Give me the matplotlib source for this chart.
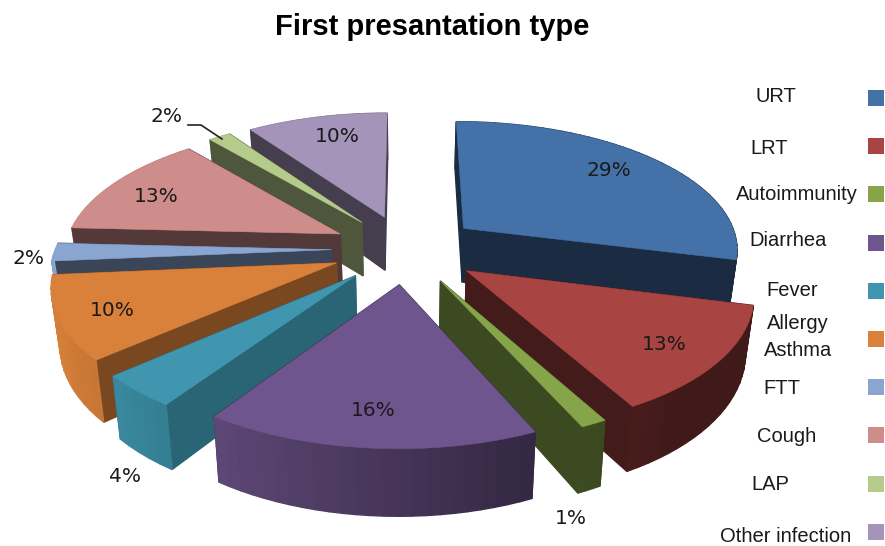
import numpy as np
import matplotlib
matplotlib.use('Agg')
import matplotlib.pyplot as plt
from matplotlib.patches import Polygon, Rectangle

#--- data ---
categories = ['URT', 'LRT', 'Autoimmunity', 'Diarrhea', 'Fever', 'Allergy\nAsthma',
              'FTT', 'Cough', 'LAP', 'Other infection']
values = [29.0, 13.0, 1.28, 16.17, 4.0, 10.15, 2.2, 13.0, 1.52, 9.68]

#--- style ---
top_colors = ['#4472a8', '#a84442', '#86a44a', '#6f558d', '#3f96ae',
              '#d9813a', '#8aa5d0', '#ce8c8a', '#b5cb8c', '#a594ba']
radial_shade = [0.39, 0.40, 0.45, 0.45, 0.67, 0.56, 0.42, 0.41, 0.43, 0.42]
legend_x = [776, 769, 797, 788, 792, 798, 782, 787, 770, 786]
legend_y = [96, 149, 195, 240, 290, 337, 389, 436, 484, 536]
pct_x = [609, 664, 571, 373, 125, 112, 28, 156, 167, 337]
pct_y = [171, 345, 518, 411, 476, 311, 258, 196, 117, 137]

#--- projection ---
cx = 406.; cy = 249.
sx = 276.; sy = 128.; persp = 0.147
explode = 0.27; depth = 55.; bottom_x = 0.975

def project(x, v, low=False):
    s = 1. / (1. + persp * v)
    px = sx * x * s
    py = sy * v * s
    if low:
        return cx + px * bottom_x, cy - py + depth * s
    return cx + px, cy - py

def shade(col, f):
    return tuple(c * f for c in matplotlib.colors.to_rgb(col))

def wall_factor(theta):
    return np.clip(0.62 - 0.39 * np.sin(theta), 0.38, 1.0)

fig = plt.figure(figsize=(8.85, 5.46), dpi=100)
ax = fig.add_axes([0, 0, 1, 1])
ax.set_xlim(0, 885)
ax.set_ylim(546, 0)
ax.axis('off')

total = float(sum(values))
edges = np.cumsum([0] + values) / total * 2 * np.pi

# back wedges first
mids = (edges[:-1] + edges[1:]) / 2
depth_key = (explode + 0.6) * np.cos(mids)
order = np.argsort(-depth_key)

z = 1
for i in order:
    a0, a1 = edges[i], edges[i + 1]
    ox = explode * np.sin(mids[i]); ov = explode * np.cos(mids[i])
    th = np.linspace(a0, a1, max(4, int((a1 - a0) * 25)))
    xs = ox + np.sin(th); vs = ov + np.cos(th)
    col = top_colors[i]

    walls = []
    for px, pv in [(xs[0], vs[0]), (xs[-1], vs[-1])]:
        quad = [project(ox, ov), project(px, pv), project(px, pv, True), project(ox, ov, True)]
        walls.append(((ov + pv) / 2, quad, shade(col, radial_shade[i])))
    for j in range(len(th) - 1):
        quad = [project(xs[j], vs[j]), project(xs[j + 1], vs[j + 1]),
                project(xs[j + 1], vs[j + 1], True), project(xs[j], vs[j], True)]
        c = shade(col, wall_factor((th[j] + th[j + 1]) / 2))
        walls.append(((vs[j] + vs[j + 1]) / 2, quad, c))
    walls.sort(key=lambda w: -w[0])
    for _, quad, c in walls:
        ax.add_patch(Polygon(quad, closed=True, fc=c, ec=c, lw=1.0, zorder=z))
        z += 1

    top = [project(ox, ov)] + [project(a, b) for a, b in zip(xs, vs)]
    ax.add_patch(Polygon(top, closed=True, fc=col, ec=col, lw=0.4, zorder=z))
    z += 1

for i, v in enumerate(values):
    ax.text(pct_x[i], pct_y[i], '%d%%' % round(v), ha='center', va='center', fontsize=14.5,
            family='DejaVu Sans', color='#1a1a1a', zorder=z)

for i, name in enumerate(categories):
    ax.text(legend_x[i], legend_y[i], name, ha='center', va='center', fontsize=14.5,
            family='Liberation Sans', color='#1a1a1a', linespacing=1.5, zorder=z)
    y = 98 + 48.2 * i
    ax.add_patch(Rectangle((868, y - 8), 16, 16, fc=top_colors[i], ec='none', zorder=z))

ax.plot([188, 201, 222], [125, 125, 139], color='#222222', lw=1.2, zorder=z)
ax.text(432, 27, 'First presantation type', ha='center', va='center', fontsize=21,
        family='Liberation Sans', weight='bold', color='black')

fig.savefig('out.png', dpi=100)
